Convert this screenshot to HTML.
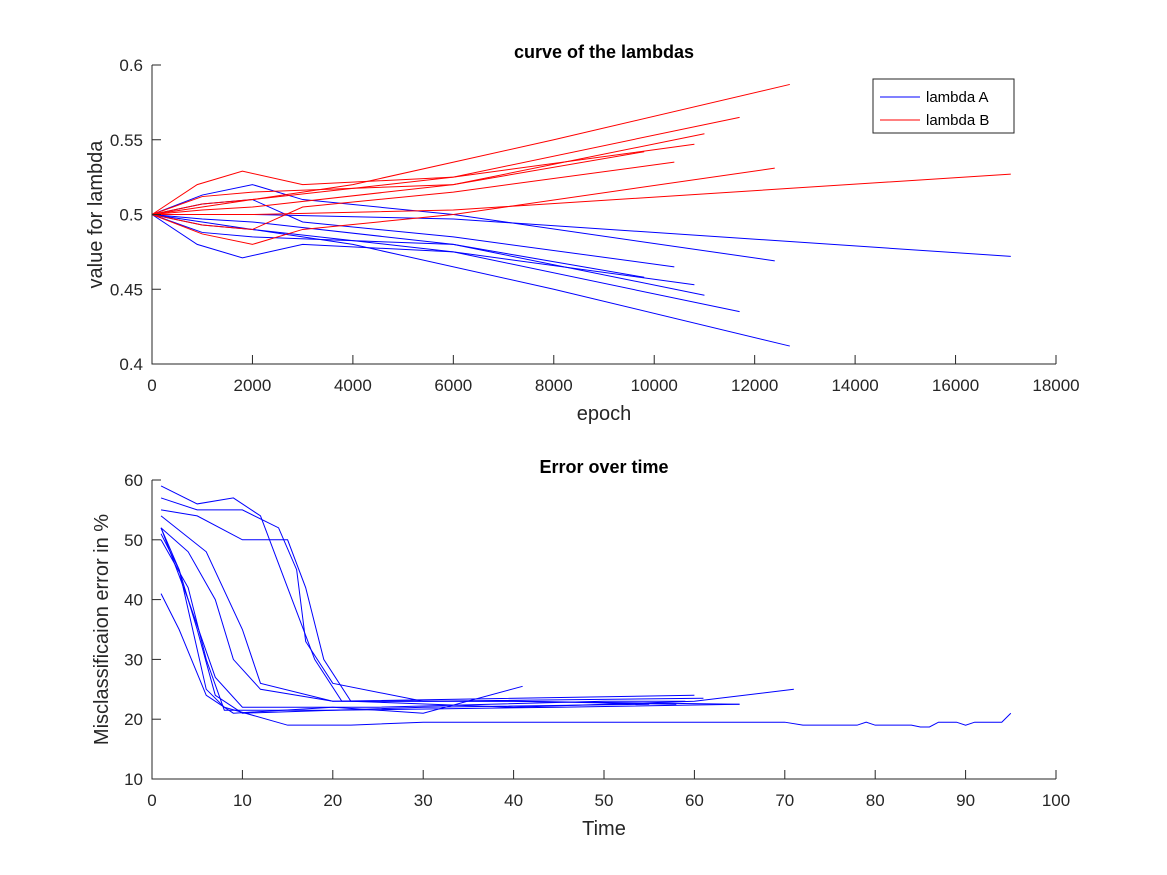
<!DOCTYPE html>
<html><head><meta charset="utf-8"><style>
body{margin:0;background:#fff}
svg{display:block;font-family:"Liberation Sans",sans-serif}
</style></head><body>
<svg id="fig" width="1167" height="875" viewBox="0 0 1167 875"></svg>
<script>
// ---- top chart data (epoch, value waypoints) ----
const topXTicks=[0,2000,4000,6000,8000,10000,12000,14000,16000,18000];
const topYTicks=[0.4,0.45,0.5,0.55,0.6];
const lambdaB=[
 [[0,.5],[1000,.505],[2000,.51],[4000,.52],[8000,.55],[12700,.587]],
 [[0,.5],[1000,.507],[2000,.51],[6000,.525],[11700,.565]],
 [[0,.5],[1000,.503],[2000,.505],[6000,.52],[11000,.554]],
 [[0,.5],[900,.52],[1800,.529],[3000,.52],[6000,.525],[10800,.547]],
 [[0,.5],[1000,.493],[2000,.49],[3000,.505],[6000,.515],[10400,.535]],
 [[0,.5],[1000,.487],[2000,.48],[3000,.49],[6000,.5],[12400,.531]],
 [[0,.5],[2000,.5],[6000,.503],[17100,.527]],
 [[0,.5],[1000,.512],[2000,.515],[6000,.52],[9800,.542]]
];
const lambdaA=[
 [[0,.5],[1000,.495],[2000,.49],[4000,.48],[8000,.45],[12700,.412]],
 [[0,.5],[1000,.493],[2000,.49],[6000,.475],[11700,.435]],
 [[0,.5],[1000,.497],[2000,.495],[6000,.48],[11000,.446]],
 [[0,.5],[900,.48],[1800,.471],[3000,.48],[6000,.475],[10800,.453]],
 [[0,.5],[1000,.507],[2000,.51],[3000,.495],[6000,.485],[10400,.465]],
 [[0,.5],[1000,.513],[2000,.52],[3000,.51],[6000,.5],[12400,.469]],
 [[0,.5],[2000,.5],[6000,.497],[17100,.472]],
 [[0,.5],[1000,.488],[2000,.485],[6000,.48],[9800,.458]]
];
// ---- bottom chart data (time, error %) ----
const botXTicks=[0,10,20,30,40,50,60,70,80,90,100];
const botYTicks=[10,20,30,40,50,60];
const errorRuns=[
 [[1,52],[3,45],[6,25],[8,22],[15,19],[22,19],[30,19.5],[40,19.5],[60,19.5],[70,19.5],[72,19],[78,19],[79,19.5],[80,19],[84,19],[85,18.7],[86,18.7],[87,19.5],[89,19.5],[90,19],[91,19.5],[94,19.5],[95,21]],
 [[1,55],[5,54],[10,50],[15,50],[17,42],[19,30],[22,23],[40,22],[60,23],[71,25]],
 [[1,59],[5,56],[9,57],[12,54],[15,42],[18,30],[21,23],[40,23],[65,22.5]],
 [[1,57],[5,55],[10,55],[14,52],[16,45],[17,33],[20,26],[30,23],[61,23.5]],
 [[1,52],[4,48],[7,40],[9,30],[12,25],[20,23],[40,23],[58,22.5]],
 [[1,51],[3,45],[5,35],[7,24],[10,21],[30,22],[55,22.5]],
 [[1,41],[3,35],[6,24],[9,21],[20,22],[30,21],[41,25.5]],
 [[1,54],[6,48],[10,35],[12,26],[20,23],[60,24]],
 [[1,52],[4,40],[7,27],[10,22],[25,22],[50,23],[59,23]],
 [[1,50],[4,42],[6,30],[8,21.5],[20,21.5],[45,22],[65,22.5]]
];
const NS="http://www.w3.org/2000/svg";
const svg=document.getElementById('fig');
function mk(t,a,p){const e=document.createElementNS(NS,t);for(const k in a)e.setAttribute(k,a[k]);(p||svg).appendChild(e);return e;}
function axes(o){
 const g=mk('g',{});
 
 
 const sx=v=>o.x0+(v-o.xmin)/(o.xmax-o.xmin)*(o.x1-o.x0);
 const sy=v=>o.y1-(v-o.ymin)/(o.ymax-o.ymin)*(o.y1-o.y0);
 o.series.forEach((s,i)=>{
  const pl=mk('polyline',{points:s.d.map(p=>sx(p[0])+','+sy(p[1])).join(' '),fill:'none',stroke:s.c,'stroke-width':1},g);
  
  
 });
 mk('path',{d:`M${o.x0},${o.y0}V${o.y1}H${o.x1}`,stroke:'#262626',fill:'none','stroke-width':1},g);
 o.xt.forEach(v=>{const x=sx(v);mk('line',{x1:x,x2:x,y1:o.y1,y2:o.y1-9,stroke:'#262626'},g);
  const t=mk('text',{x:x,y:o.y1+27,'text-anchor':'middle','font-size':17,fill:'#262626'},g);t.textContent=o.xf(v);
  });
 o.yt.forEach(v=>{const y=sy(v);mk('line',{x1:o.x0,x2:o.x0+9,y1:y,y2:y,stroke:'#262626'},g);
  const t=mk('text',{x:o.x0-9,y:y+6,'text-anchor':'end','font-size':17,fill:'#262626'},g);t.textContent=o.yf(v);
  });
 let t=mk('text',{x:(o.x0+o.x1)/2,y:o.y0-7,'text-anchor':'middle','font-size':18,'font-weight':'bold',fill:'#000'},g);t.textContent=o.title;
 
 t=mk('text',{x:(o.x0+o.x1)/2,y:o.y1+56,'text-anchor':'middle','font-size':20,fill:'#262626'},g);t.textContent=o.xl;
 
 const cy=(o.y0+o.y1)/2;
 t=mk('text',{x:o.ylx,y:cy,'text-anchor':'middle','font-size':20,fill:'#262626',transform:`rotate(-90 ${o.ylx} ${cy})`},g);t.textContent=o.yl;
 
}
const topSeries=[];
lambdaA.forEach(d=>topSeries.push({d,c:'#0000ff',n:'lambda-a-line'}));
lambdaB.forEach(d=>topSeries.push({d,c:'#ff0000',n:'lambda-b-line'}));
axes({name:'lambda-chart',x0:152,x1:1056,y0:65,y1:364,xmin:0,xmax:18000,ymin:0.4,ymax:0.6,
 series:topSeries,xt:topXTicks,yt:topYTicks,xf:v=>String(v),yf:v=>String(+v.toFixed(2)),
 title:'curve of the lambdas',xl:'epoch',yl:'value for lambda',ylx:102});
axes({name:'error-chart',x0:152,x1:1056,y0:480,y1:779,xmin:0,xmax:100,ymin:10,ymax:60,
 series:errorRuns.map(d=>({d,c:'#0000ff',n:'error-run'})),xt:botXTicks,yt:botYTicks,xf:v=>String(v),yf:v=>String(v),
 title:'Error over time',xl:'Time',yl:'Misclassificaion error in %',ylx:108});
// legend
const lg=mk('g',{});


mk('rect',{x:873,y:79,width:141,height:54,fill:'#fff',stroke:'#262626'},lg);
[['lambda A','#0000ff',97],['lambda B','#ff0000',120]].forEach(([l,c,y])=>{
 mk('line',{x1:880,x2:920,y1:y,y2:y,stroke:c},lg);
 const t=mk('text',{x:926,y:y+5,'font-size':15,fill:'#000'},lg);t.textContent=l;
 
});
</script>
</body></html>
